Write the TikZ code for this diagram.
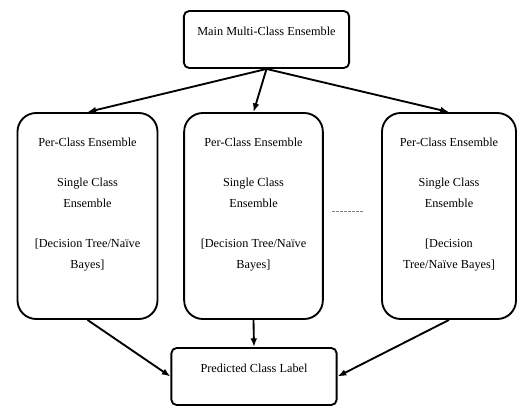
\documentclass[tikz,border=0pt]{standalone}
\usepackage{fontspec}
\setmainfont{Liberation Serif}
\usepackage{tikz}
\usetikzlibrary{arrows.meta}

\begin{document}
\begin{tikzpicture}[x=0.75pt, y=-0.75pt,
        box/.style={rectangle, draw, line width=1.4pt, inner sep=0pt, font=\fontsize{9.2}{16}\selectfont},
        labelbox/.style={box, rounded corners=4pt, execute at begin node={\begin{minipage}[c][42.75pt][t]{124pt}\centering\vspace*{12pt}}, execute at end node={\end{minipage}}},
        ensbox/.style={box, rounded corners=14pt, execute at begin node={\begin{minipage}[c][154.5pt][t]{#1}\centering\vspace*{18.5pt}}, execute at end node={\end{minipage}}},
        link/.style={-{Latex[length=6.5pt,width=5pt]}, line width=1.4pt}]
            \useasboundingbox (0,0) rectangle (520,406);

            \node (main) [labelbox] at (266.5,39.5) {Main Multi-Class Ensemble};
            \node (pc1) [ensbox=105pt] at (87.5,216) {Per-Class Ensemble\\[14pt]Single Class\\Ensemble\\[14pt]{[}Decision Tree/Naïve\\Bayes]};
            \node (pc2) [ensbox=104pt] at (253.5,216) {Per-Class Ensemble\\[14pt]Single Class\\Ensemble\\[14pt]{[}Decision Tree/Naïve\\Bayes]};
            \node (pc3) [ensbox=100.5pt] at (449,216) {Per-Class Ensemble\\[14pt]Single Class\\Ensemble\\[14pt]{[}Decision\\Tree/Naïve Bayes]};
            \node (pred) [labelbox] at (254,376.5) {Predicted Class Label};
            \coordinate (d1) at (332,211);
            \coordinate (d2) at (364,211);

            \draw [link] (main.south) -- (pc1.north);
            \draw [link] (main.south) -- (pc2.north);
            \draw [link] (main.south) -- (pc3.north);
            \draw [link] (pc1.south) -- (pred.west);
            \draw [link] (pc2.south) -- (pred.north);
            \draw [link] (pc3.south) -- (pred.east);
            \draw [gray, line width=0.6pt, dash pattern=on 2pt off 1pt] (d1) -- (d2);
        \end{tikzpicture}
\end{document}
